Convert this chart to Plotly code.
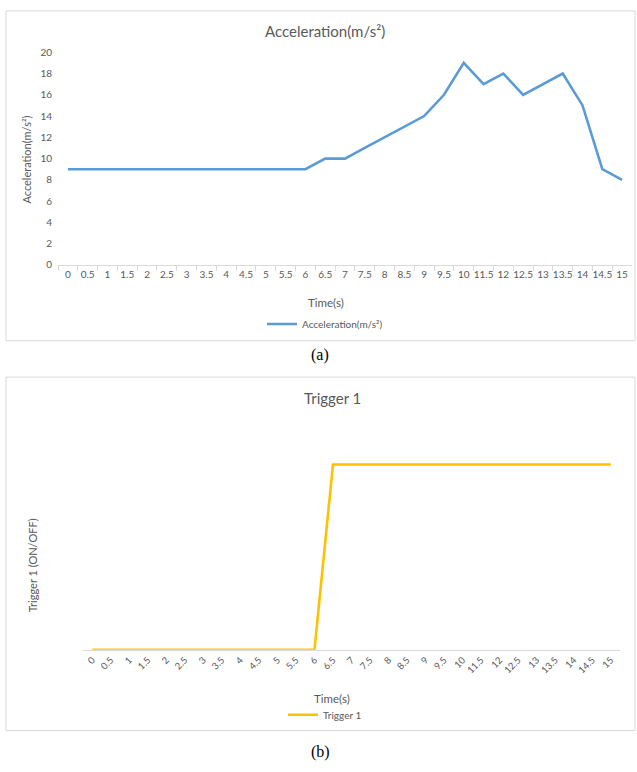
import plotly.graph_objects as go

# Time categories shown on both charts
time_labels = ["0", "0.5", "1", "1.5", "2", "2.5", "3", "3.5", "4", "4.5", "5",
               "5.5", "6", "6.5", "7", "7.5", "8", "8.5", "9", "9.5", "10",
               "11.5", "12", "12.5", "13", "13.5", "14", "14.5", "15"]

# Acceleration in m/s² at each time step
acceleration = [9, 9, 9, 9, 9, 9, 9, 9, 9, 9, 9,
                9, 9, 10, 10, 11, 12, 13, 14, 16, 19,
                17, 18, 16, 17, 18, 15, 9, 8]

# Trigger state (0 = OFF, 1 = ON)
trigger = [0, 0, 0, 0, 0, 0, 0, 0, 0, 0, 0,
           0, 0, 1, 1, 1, 1, 1, 1, 1, 1,
           1, 1, 1, 1, 1, 1, 1, 1]

W, H = 637, 772
FONT = "Lato"
GREY = "#595959"
LINE_GREY = "#D9D9D9"


def fx(x):
    return x / W


def fy(y):
    return 1 - y / H


fig = go.Figure()

fig.add_trace(go.Scatter(
    x=time_labels, y=acceleration, mode="lines", name="Acceleration(m/s²)",
    line=dict(color="#5B9BD5", width=2.6), xaxis="x", yaxis="y", legend="legend",
))
fig.add_trace(go.Scatter(
    x=time_labels, y=trigger, mode="lines", name="Trigger 1",
    line=dict(color="#FFC000", width=2.6), xaxis="x2", yaxis="y2", legend="legend2",
))

tick_font = dict(family=FONT, size=10, color=GREY)

fig.update_layout(
    width=W, height=H,
    margin=dict(l=0, r=0, t=0, b=0),
    paper_bgcolor="white", plot_bgcolor="white",
    xaxis=dict(
        domain=[fx(58), fx(632)], type="category", range=[-0.5, len(time_labels) - 0.5],
        showgrid=False, zeroline=False, showline=True, linecolor=LINE_GREY, linewidth=1,
        ticks="outside", tickson="boundaries", ticklen=5, tickcolor=LINE_GREY,
        tickfont=tick_font, tickangle=0, anchor="y",
    ),
    yaxis=dict(
        domain=[fy(263), fy(47)], range=[0, 20], dtick=2,
        showgrid=False, zeroline=False, showline=False, ticks="",
        tickfont=tick_font, ticklabelstandoff=5, anchor="x",
    ),
    xaxis2=dict(
        domain=[fx(83), fx(620)], type="category", range=[-0.5, len(time_labels) - 0.5],
        showgrid=False, zeroline=False, showline=True, linecolor=LINE_GREY, linewidth=1,
        ticks="", tickfont=dict(family=FONT, size=9.5, color=GREY), tickangle=-45,
        anchor="y2",
    ),
    yaxis2=dict(
        domain=[fy(654), fy(428)], range=[0, 1.2],
        showgrid=False, zeroline=False, showline=False, showticklabels=False, ticks="",
        anchor="x2",
    ),
    legend=dict(
        x=fx(325), y=fy(323), xanchor="center", yanchor="middle", orientation="h",
        font=dict(family=FONT, size=10, color=GREY), bgcolor="rgba(0,0,0,0)",
        itemwidth=30,
    ),
    legend2=dict(
        x=fx(325), y=fy(720), xanchor="center", yanchor="middle", orientation="h",
        font=dict(family=FONT, size=10, color=GREY), bgcolor="rgba(0,0,0,0)",
        itemwidth=30,
    ),
    showlegend=True,
)

# Chart frames
fig.add_shape(type="rect", xref="paper", yref="paper",
              x0=fx(6), x1=fx(635), y0=fy(340), y1=fy(5),
              line=dict(color=LINE_GREY, width=1), fillcolor="rgba(0,0,0,0)", layer="below")
fig.add_shape(type="rect", xref="paper", yref="paper",
              x0=fx(6), x1=fx(635), y0=fy(736), y1=fy(377),
              line=dict(color=LINE_GREY, width=1), fillcolor="rgba(0,0,0,0)", layer="below")


def label(text, x, y, size, angle=0, family=FONT, color=GREY):
    fig.add_annotation(text=text, x=fx(x), y=fy(y), xref="paper", yref="paper",
                       showarrow=False, textangle=angle, xanchor="center", yanchor="middle",
                       font=dict(family=family, size=size, color=color))


label("Acceleration(m/s²)", 325, 25, 15)
label("Acceleration(m/s²)", 27, 156, 11, angle=-90)
label("Time(s)", 326, 301, 11.5)
label("(a)", 320, 355, 16, family="Liberation Serif", color="black")

label("Trigger 1", 332, 398, 15)
label("Trigger 1 (ON/OFF)", 32, 568, 11, angle=-90)
label("Time(s)", 332, 703, 11.5)
label("(b)", 320, 758, 16, family="Liberation Serif", color="black")

fig.write_html("out.html")
